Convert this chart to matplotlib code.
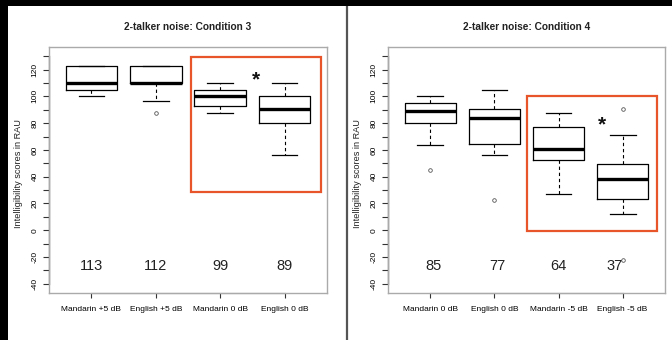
import matplotlib
matplotlib.use("Agg")
import matplotlib.pyplot as plt
from matplotlib.patches import Rectangle
from matplotlib.lines import Line2D
import numpy as np

plt.rcParams['font.family'] = ['Liberation Sans', 'DejaVu Sans']
plt.rcParams['axes.unicode_minus'] = False

# ---- data ----
titles = ["2-talker noise: Condition 3", "2-talker noise: Condition 4"]
ylabel = "Intelligibility scores in RAU"

cats3 = ["Mandarin +5 dB", "English +5 dB", "Mandarin 0 dB", "English 0 dB"]
whislo3 = [100.0, 96.5, 87.7, 56.0]
q1_3 = [104.4, 110.0, 93.1, 80.2]
med3 = [110.1, 110.0, 100.0, 90.4]
q3_3 = [122.5, 122.5, 104.4, 100.0]
whishi3 = [122.5, 122.5, 110.0, 110.0]
fliers3 = [[], [87.7], [], []]
counts3 = ["113", "112", "99", "89"]
count_x3 = [1.0, 2.0, 3.0, 4.0]

cats4 = ["Mandarin 0 dB", "English 0 dB", "Mandarin -5 dB", "English -5 dB"]
whislo4 = [63.5, 56.0, 26.8, 12.4]
q1_4 = [80.2, 64.4, 52.1, 23.3]
med4 = [89.1, 84.0, 60.7, 38.0]
q3_4 = [94.8, 90.4, 76.8, 49.6]
whishi4 = [100.2, 104.4, 87.9, 71.4]
fliers4 = [[45.0], [22.4], [], [90.6, -22.4]]
counts4 = ["85", "77", "64", "37"]
count_x4 = [1.05, 2.04, 3.0, 3.87]

# significance star positions (x, y) and highlighted regions (x0, x1, y0, y1)
star3 = (3.55, 112.3)
star4 = (3.68, 78.5)
rect3 = (2.54, 4.56, 28.3, 129.2)
rect4 = (2.50, 4.54, -0.7, 100.1)
count_y = -27.0

panels = [
    (cats3, whislo3, q1_3, med3, q3_3, whishi3, fliers3, counts3, count_x3, star3, rect3),
    (cats4, whislo4, q1_4, med4, q3_4, whishi4, fliers4, counts4, count_x4, star4, rect4),
]

W, H = 672, 340
fig = plt.figure(figsize=(W / 100, H / 100), dpi=100, facecolor='white')

ax_px = [(49, 47, 327, 293), (388, 47, 665, 293)]  # left, top, right, bottom in pixels
for i, (cats, wlo, q1, med, q3, whi, fl, cnt, cx, star, rect) in enumerate(panels):
    l, t, r, b = ax_px[i]
    ax = fig.add_axes([l / W, (H - b) / H, (r - l) / W, (b - t) / H])
    stats = []
    for j in range(len(cats)):
        stats.append(dict(med=med[j], q1=q1[j], q3=q3[j], whislo=wlo[j],
                          whishi=whi[j], fliers=fl[j], label=cats[j]))
    pos = np.arange(1, len(cats) + 1)
    ax.bxp(stats, positions=pos, widths=0.8, capwidths=0.4, showfliers=True,
           boxprops=dict(color='black', lw=0.9),
           medianprops=dict(color='black', lw=2.4, solid_capstyle='butt'),
           whiskerprops=dict(color='black', lw=0.8, linestyle=(0, (3, 2.5))),
           capprops=dict(color='black', lw=0.9),
           flierprops=dict(marker='o', markersize=2.6, markerfacecolor='none',
                           markeredgecolor='#555555', markeredgewidth=0.6))
    ax.set_xlim(0.34, 4.66)
    ax.set_ylim(-46.8, 136.8)

    for s in ['top', 'right', 'left', 'bottom']:
        ax.spines[s].set_color('#aaaaaa')
        ax.spines[s].set_linewidth(1.0)
    # dark axis lines spanning tick range (R style)
    ax.add_line(Line2D([0, 0], [-40, 130], transform=ax.get_yaxis_transform(),
                       color='#333333', lw=0.9, clip_on=False))
    ax.add_line(Line2D([1, 4], [0, 0], transform=ax.get_xaxis_transform(),
                       color='#555555', lw=0.8, clip_on=False))

    ax.set_yticks(np.arange(-40, 121, 20))
    ax.set_yticks(np.arange(-30, 131, 20), minor=True)
    ax.tick_params(axis='y', which='both', length=4.5, width=0.8, color='#333333',
                   labelsize=6, pad=3, direction='out')
    for lab in ax.get_yticklabels():
        lab.set_rotation(90)
        lab.set_va('center')
    ax.set_xticks(pos)
    ax.set_xticklabels(cats)
    ax.tick_params(axis='x', length=3.6, width=0.8, color='#333333',
                   labelsize=6, pad=5.5)

    for j in range(len(cats)):
        ax.text(cx[j], count_y, cnt[j], ha='center', va='center', fontsize=10.5,
                color='#222222')
    ax.text(star[0], star[1], '*', ha='center', va='center', fontsize=15,
            fontweight='bold', color='#111111')
    x0, x1, y0, y1 = rect
    ax.add_patch(Rectangle((x0, y0), x1 - x0, y1 - y0, fill=False,
                           edgecolor='#E8552A', lw=1.6, clip_on=False, zorder=5))

    fig.text((l + r) / 2 / W, 1 - 27 / H, titles[i], ha='center', va='center',
             fontsize=7.3, fontweight='bold', color='#222222')
    fig.text((l - 30) / W, 1 - 174 / H, ylabel, rotation=90, ha='center',
             va='center', fontsize=6.6, color='#222222')

# frame decorations
fig.patches.append(Rectangle((0, 1 - 6 / H), 1, 6 / H, transform=fig.transFigure,
                             facecolor='black', edgecolor='none', zorder=10))
fig.patches.append(Rectangle((0, 0), 8 / W, 1, transform=fig.transFigure,
                             facecolor='black', edgecolor='none', zorder=10))
fig.lines.append(Line2D([347 / W, 347 / W], [0, 1], transform=fig.transFigure,
                        color='#555555', lw=1.6, zorder=9))

fig.savefig("out.png", dpi=100, facecolor='white')
